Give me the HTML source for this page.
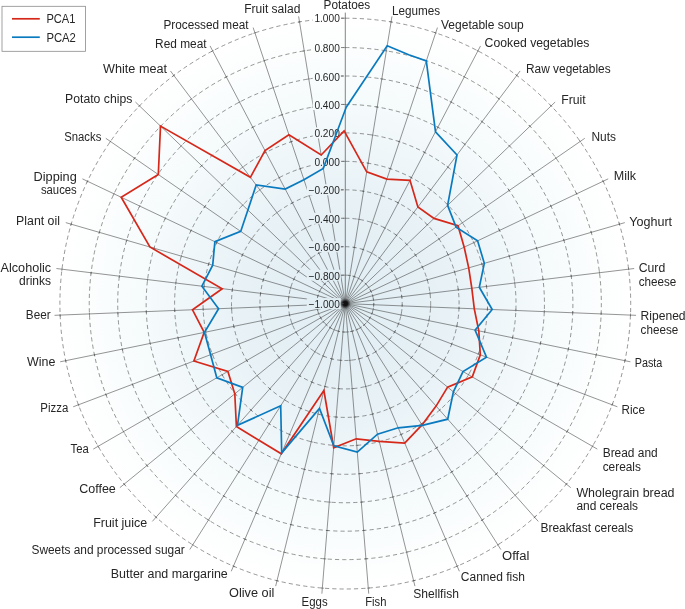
<!DOCTYPE html>
<html><head><meta charset="utf-8"><title>Radar</title>
<style>html,body{margin:0;padding:0;background:#fff;}body{width:685px;height:609px;overflow:hidden;}svg{display:block;will-change:transform;}text{font-family:"Liberation Sans",sans-serif;fill:#262626;}</style></head><body>
<svg width="685" height="609" viewBox="0 0 685 609">
<defs>
<radialGradient id="bg" gradientUnits="userSpaceOnUse" cx="345.3" cy="303.6" r="285.4"><stop offset="0" stop-color="#dfedf3"/><stop offset="0.35" stop-color="#e7f1f6"/><stop offset="0.72" stop-color="#f6fbfc"/><stop offset="1" stop-color="#ffffff"/></radialGradient>
<radialGradient id="hub" gradientUnits="userSpaceOnUse" cx="345.3" cy="303.6" r="5.5"><stop offset="0" stop-color="#111" stop-opacity="1"/><stop offset="0.45" stop-color="#111" stop-opacity="0.85"/><stop offset="1" stop-color="#333" stop-opacity="0"/></radialGradient>
<mask id="lm" maskUnits="userSpaceOnUse" x="0" y="0" width="685" height="609"><rect width="685" height="609" fill="#fff"/>
<rect x="312.8" y="12.7" width="28.0" height="11.0" fill="#000"/>
<rect x="312.8" y="42.1" width="28.0" height="11.0" fill="#000"/>
<rect x="312.8" y="70.5" width="28.0" height="11.0" fill="#000"/>
<rect x="312.8" y="99.0" width="28.0" height="11.0" fill="#000"/>
<rect x="312.8" y="127.4" width="28.0" height="11.0" fill="#000"/>
<rect x="312.8" y="155.9" width="28.0" height="11.0" fill="#000"/>
<rect x="306.8" y="184.3" width="34.0" height="11.0" fill="#000"/>
<rect x="306.8" y="212.8" width="34.0" height="11.0" fill="#000"/>
<rect x="306.8" y="241.2" width="34.0" height="11.0" fill="#000"/>
<rect x="306.8" y="269.7" width="34.0" height="11.0" fill="#000"/>
<rect x="306.8" y="298.1" width="34.0" height="11.0" fill="#000"/>
</mask>
</defs>
<rect width="685" height="609" fill="#fff"/>
<circle cx="345.3" cy="303.6" r="285.4" fill="url(#bg)"/>
<g mask="url(#lm)">
<g fill="none" stroke="#505050" stroke-width="0.60" stroke-dasharray="4.2 3.1" transform="rotate(-90 345.3 303.6)">
<circle cx="345.3" cy="303.6" r="28.45"/>
<circle cx="345.3" cy="303.6" r="56.90"/>
<circle cx="345.3" cy="303.6" r="85.35"/>
<circle cx="345.3" cy="303.6" r="113.80"/>
<circle cx="345.3" cy="303.6" r="142.25"/>
<circle cx="345.3" cy="303.6" r="170.70"/>
<circle cx="345.3" cy="303.6" r="199.15"/>
<circle cx="345.3" cy="303.6" r="227.60"/>
<circle cx="345.3" cy="303.6" r="256.05"/>
<circle cx="345.3" cy="303.6" r="285.40"/>
</g>
<g stroke="#3c3c3c" stroke-width="0.55">
<line x1="345.3" y1="303.6" x2="391.98" y2="16.37"/>
<line x1="345.3" y1="303.6" x2="437.45" y2="27.58"/>
<line x1="345.3" y1="303.6" x2="480.53" y2="45.93"/>
<line x1="345.3" y1="303.6" x2="520.12" y2="70.96"/>
<line x1="345.3" y1="303.6" x2="555.17" y2="102.02"/>
<line x1="345.3" y1="303.6" x2="584.79" y2="138.29"/>
<line x1="345.3" y1="303.6" x2="608.20" y2="178.85"/>
<line x1="345.3" y1="303.6" x2="624.81" y2="222.64"/>
<line x1="345.3" y1="303.6" x2="634.18" y2="268.52"/>
<line x1="345.3" y1="303.6" x2="636.06" y2="315.32"/>
<line x1="345.3" y1="303.6" x2="630.42" y2="361.81"/>
<line x1="345.3" y1="303.6" x2="617.39" y2="406.79"/>
<line x1="345.3" y1="303.6" x2="597.31" y2="449.10"/>
<line x1="345.3" y1="303.6" x2="570.71" y2="487.64"/>
<line x1="345.3" y1="303.6" x2="538.27" y2="521.42"/>
<line x1="345.3" y1="303.6" x2="500.83" y2="549.55"/>
<line x1="345.3" y1="303.6" x2="459.36" y2="571.31"/>
<line x1="345.3" y1="303.6" x2="414.94" y2="586.14"/>
<line x1="345.3" y1="303.6" x2="368.72" y2="593.66"/>
<line x1="345.3" y1="303.6" x2="321.88" y2="593.66"/>
<line x1="345.3" y1="303.6" x2="275.66" y2="586.14"/>
<line x1="345.3" y1="303.6" x2="231.24" y2="571.31"/>
<line x1="345.3" y1="303.6" x2="189.77" y2="549.55"/>
<line x1="345.3" y1="303.6" x2="152.33" y2="521.42"/>
<line x1="345.3" y1="303.6" x2="119.89" y2="487.64"/>
<line x1="345.3" y1="303.6" x2="93.29" y2="449.10"/>
<line x1="345.3" y1="303.6" x2="73.21" y2="406.79"/>
<line x1="345.3" y1="303.6" x2="60.18" y2="361.81"/>
<line x1="345.3" y1="303.6" x2="54.54" y2="315.32"/>
<line x1="345.3" y1="303.6" x2="56.42" y2="268.52"/>
<line x1="345.3" y1="303.6" x2="65.79" y2="222.64"/>
<line x1="345.3" y1="303.6" x2="82.40" y2="178.85"/>
<line x1="345.3" y1="303.6" x2="105.81" y2="138.29"/>
<line x1="345.3" y1="303.6" x2="135.43" y2="102.02"/>
<line x1="345.3" y1="303.6" x2="170.48" y2="70.96"/>
<line x1="345.3" y1="303.6" x2="210.07" y2="45.93"/>
<line x1="345.3" y1="303.6" x2="253.15" y2="27.58"/>
<line x1="345.3" y1="303.6" x2="298.62" y2="16.37"/>
</g>
<g stroke="#505050" stroke-width="0.60">
<line x1="350.85" y1="275.68" x2="348.28" y2="275.26"/>
<line x1="355.41" y1="247.60" x2="352.85" y2="247.18"/>
<line x1="359.98" y1="219.52" x2="357.41" y2="219.10"/>
<line x1="364.54" y1="191.43" x2="361.98" y2="191.02"/>
<line x1="369.11" y1="163.35" x2="366.54" y2="162.94"/>
<line x1="373.67" y1="135.27" x2="371.10" y2="134.85"/>
<line x1="378.23" y1="107.19" x2="375.67" y2="106.77"/>
<line x1="382.80" y1="79.11" x2="380.23" y2="78.69"/>
<line x1="387.36" y1="51.03" x2="384.79" y2="50.61"/>
<line x1="392.07" y1="22.06" x2="389.50" y2="21.64"/>
<line x1="355.26" y1="276.93" x2="352.79" y2="276.11"/>
<line x1="364.27" y1="249.94" x2="361.80" y2="249.12"/>
<line x1="373.28" y1="222.96" x2="370.81" y2="222.14"/>
<line x1="382.29" y1="195.97" x2="379.82" y2="195.15"/>
<line x1="391.29" y1="168.99" x2="388.83" y2="168.16"/>
<line x1="400.30" y1="142.00" x2="397.84" y2="141.18"/>
<line x1="409.31" y1="115.02" x2="406.85" y2="114.19"/>
<line x1="418.32" y1="88.03" x2="415.86" y2="87.21"/>
<line x1="427.33" y1="61.04" x2="424.87" y2="60.22"/>
<line x1="436.63" y1="33.20" x2="434.16" y2="32.38"/>
<line x1="359.41" y1="278.87" x2="357.10" y2="277.67"/>
<line x1="372.63" y1="253.68" x2="370.33" y2="252.47"/>
<line x1="385.85" y1="228.49" x2="383.55" y2="227.28"/>
<line x1="399.07" y1="203.30" x2="396.77" y2="202.09"/>
<line x1="412.29" y1="178.11" x2="409.99" y2="176.90"/>
<line x1="425.51" y1="152.92" x2="423.21" y2="151.71"/>
<line x1="438.74" y1="127.73" x2="436.43" y2="126.52"/>
<line x1="451.96" y1="102.53" x2="449.65" y2="101.33"/>
<line x1="465.18" y1="77.34" x2="462.88" y2="76.14"/>
<line x1="478.82" y1="51.36" x2="476.52" y2="50.15"/>
<line x1="363.19" y1="281.46" x2="361.11" y2="279.89"/>
<line x1="380.28" y1="258.71" x2="378.20" y2="257.15"/>
<line x1="397.37" y1="235.97" x2="395.29" y2="234.41"/>
<line x1="414.46" y1="213.22" x2="412.39" y2="211.66"/>
<line x1="431.56" y1="190.48" x2="429.48" y2="188.92"/>
<line x1="448.65" y1="167.74" x2="446.57" y2="166.17"/>
<line x1="465.74" y1="144.99" x2="463.66" y2="143.43"/>
<line x1="482.83" y1="122.25" x2="480.75" y2="120.69"/>
<line x1="499.92" y1="99.50" x2="497.84" y2="97.94"/>
<line x1="517.55" y1="76.04" x2="515.47" y2="74.48"/>
<line x1="366.51" y1="284.61" x2="364.71" y2="282.74"/>
<line x1="387.03" y1="264.91" x2="385.23" y2="263.03"/>
<line x1="407.55" y1="245.20" x2="405.75" y2="243.32"/>
<line x1="428.07" y1="225.49" x2="426.26" y2="223.61"/>
<line x1="448.58" y1="205.78" x2="446.78" y2="203.91"/>
<line x1="469.10" y1="186.07" x2="467.30" y2="184.20"/>
<line x1="489.62" y1="166.37" x2="487.82" y2="164.49"/>
<line x1="510.14" y1="146.66" x2="508.34" y2="144.78"/>
<line x1="530.66" y1="126.95" x2="528.86" y2="125.07"/>
<line x1="551.82" y1="106.62" x2="550.02" y2="104.74"/>
<line x1="369.28" y1="288.26" x2="367.80" y2="286.12"/>
<line x1="392.70" y1="272.10" x2="391.22" y2="269.96"/>
<line x1="416.11" y1="255.94" x2="414.63" y2="253.80"/>
<line x1="439.52" y1="239.78" x2="438.05" y2="237.64"/>
<line x1="462.94" y1="223.62" x2="461.46" y2="221.48"/>
<line x1="486.35" y1="207.45" x2="484.87" y2="205.31"/>
<line x1="509.77" y1="191.29" x2="508.29" y2="189.15"/>
<line x1="533.18" y1="175.13" x2="531.70" y2="172.99"/>
<line x1="556.59" y1="158.97" x2="555.12" y2="156.83"/>
<line x1="580.75" y1="142.30" x2="579.27" y2="140.16"/>
<line x1="371.43" y1="292.31" x2="370.32" y2="289.96"/>
<line x1="397.14" y1="280.11" x2="396.02" y2="277.76"/>
<line x1="422.84" y1="267.91" x2="421.72" y2="265.57"/>
<line x1="448.54" y1="255.72" x2="447.43" y2="253.37"/>
<line x1="474.24" y1="243.52" x2="473.13" y2="241.17"/>
<line x1="499.95" y1="231.33" x2="498.83" y2="228.98"/>
<line x1="525.65" y1="219.13" x2="524.54" y2="216.78"/>
<line x1="551.35" y1="206.93" x2="550.24" y2="204.58"/>
<line x1="577.06" y1="194.74" x2="575.94" y2="192.39"/>
<line x1="603.57" y1="182.15" x2="602.46" y2="179.81"/>
<line x1="372.90" y1="296.65" x2="372.18" y2="294.15"/>
<line x1="400.23" y1="288.73" x2="399.51" y2="286.23"/>
<line x1="427.56" y1="280.81" x2="426.84" y2="278.32"/>
<line x1="454.89" y1="272.90" x2="454.16" y2="270.40"/>
<line x1="482.21" y1="264.98" x2="481.49" y2="262.49"/>
<line x1="509.54" y1="257.07" x2="508.82" y2="254.57"/>
<line x1="536.87" y1="249.15" x2="536.14" y2="246.66"/>
<line x1="564.19" y1="241.24" x2="563.47" y2="238.74"/>
<line x1="591.52" y1="233.32" x2="590.80" y2="230.83"/>
<line x1="619.71" y1="225.16" x2="618.99" y2="222.66"/>
<line x1="373.66" y1="301.16" x2="373.35" y2="298.58"/>
<line x1="401.91" y1="297.73" x2="401.59" y2="295.15"/>
<line x1="430.15" y1="294.30" x2="429.83" y2="291.72"/>
<line x1="458.39" y1="290.88" x2="458.08" y2="288.29"/>
<line x1="486.63" y1="287.45" x2="486.32" y2="284.87"/>
<line x1="514.88" y1="284.02" x2="514.56" y2="281.44"/>
<line x1="543.12" y1="280.59" x2="542.81" y2="278.01"/>
<line x1="571.36" y1="277.16" x2="571.05" y2="274.58"/>
<line x1="599.60" y1="273.73" x2="599.29" y2="271.15"/>
<line x1="628.74" y1="270.19" x2="628.43" y2="267.61"/>
<line x1="373.69" y1="305.74" x2="373.79" y2="303.15"/>
<line x1="402.11" y1="306.89" x2="402.22" y2="304.29"/>
<line x1="430.54" y1="308.04" x2="430.65" y2="305.44"/>
<line x1="458.97" y1="309.18" x2="459.07" y2="306.58"/>
<line x1="487.39" y1="310.33" x2="487.50" y2="307.73"/>
<line x1="515.82" y1="311.47" x2="515.93" y2="308.87"/>
<line x1="544.25" y1="312.62" x2="544.35" y2="310.02"/>
<line x1="572.68" y1="313.76" x2="572.78" y2="311.17"/>
<line x1="601.10" y1="314.91" x2="601.21" y2="312.31"/>
<line x1="630.43" y1="316.09" x2="630.53" y2="313.49"/>
<line x1="372.98" y1="310.27" x2="373.50" y2="307.72"/>
<line x1="400.85" y1="315.96" x2="401.37" y2="313.41"/>
<line x1="428.73" y1="321.65" x2="429.25" y2="319.10"/>
<line x1="456.60" y1="327.34" x2="457.12" y2="324.80"/>
<line x1="484.48" y1="333.03" x2="485.00" y2="330.49"/>
<line x1="512.35" y1="338.72" x2="512.87" y2="336.18"/>
<line x1="540.23" y1="344.41" x2="540.75" y2="341.87"/>
<line x1="568.10" y1="350.11" x2="568.62" y2="347.56"/>
<line x1="595.98" y1="355.80" x2="596.50" y2="353.25"/>
<line x1="624.73" y1="361.67" x2="625.25" y2="359.12"/>
<line x1="371.55" y1="314.62" x2="372.47" y2="312.19"/>
<line x1="398.15" y1="324.71" x2="399.07" y2="322.28"/>
<line x1="424.75" y1="334.80" x2="425.67" y2="332.37"/>
<line x1="451.35" y1="344.89" x2="452.27" y2="342.46"/>
<line x1="477.95" y1="354.98" x2="478.87" y2="352.55"/>
<line x1="504.55" y1="365.07" x2="505.47" y2="362.64"/>
<line x1="531.15" y1="375.15" x2="532.08" y2="372.72"/>
<line x1="557.76" y1="385.24" x2="558.68" y2="382.81"/>
<line x1="584.36" y1="395.33" x2="585.28" y2="392.90"/>
<line x1="611.80" y1="405.74" x2="612.72" y2="403.31"/>
<line x1="369.44" y1="318.69" x2="370.74" y2="316.44"/>
<line x1="394.08" y1="332.92" x2="395.38" y2="330.66"/>
<line x1="418.72" y1="347.14" x2="420.02" y2="344.89"/>
<line x1="443.35" y1="361.37" x2="444.65" y2="359.11"/>
<line x1="467.99" y1="375.59" x2="469.29" y2="373.34"/>
<line x1="492.63" y1="389.82" x2="493.93" y2="387.56"/>
<line x1="517.27" y1="404.04" x2="518.57" y2="401.79"/>
<line x1="541.91" y1="418.27" x2="543.21" y2="416.01"/>
<line x1="566.55" y1="432.49" x2="567.85" y2="430.24"/>
<line x1="591.96" y1="447.17" x2="593.26" y2="444.91"/>
<line x1="366.71" y1="322.37" x2="368.35" y2="320.35"/>
<line x1="388.74" y1="340.36" x2="390.39" y2="338.35"/>
<line x1="410.78" y1="358.35" x2="412.42" y2="356.34"/>
<line x1="432.82" y1="376.35" x2="434.46" y2="374.33"/>
<line x1="454.86" y1="394.34" x2="456.50" y2="392.33"/>
<line x1="476.89" y1="412.33" x2="478.54" y2="410.32"/>
<line x1="498.93" y1="430.33" x2="500.57" y2="428.31"/>
<line x1="520.97" y1="448.32" x2="522.61" y2="446.31"/>
<line x1="543.01" y1="466.31" x2="544.65" y2="464.30"/>
<line x1="565.74" y1="484.87" x2="567.38" y2="482.86"/>
<line x1="363.42" y1="325.56" x2="365.36" y2="323.83"/>
<line x1="382.28" y1="346.85" x2="384.23" y2="345.13"/>
<line x1="401.15" y1="368.15" x2="403.10" y2="366.42"/>
<line x1="420.01" y1="389.44" x2="421.96" y2="387.72"/>
<line x1="438.88" y1="410.74" x2="440.83" y2="409.01"/>
<line x1="457.75" y1="432.03" x2="459.69" y2="430.31"/>
<line x1="476.61" y1="453.33" x2="478.56" y2="451.60"/>
<line x1="495.48" y1="474.62" x2="497.42" y2="472.90"/>
<line x1="514.34" y1="495.92" x2="516.29" y2="494.20"/>
<line x1="533.81" y1="517.89" x2="535.75" y2="516.16"/>
<line x1="359.66" y1="328.18" x2="361.86" y2="326.79"/>
<line x1="374.87" y1="352.23" x2="377.06" y2="350.84"/>
<line x1="390.07" y1="376.27" x2="392.27" y2="374.88"/>
<line x1="405.28" y1="400.32" x2="407.47" y2="398.93"/>
<line x1="420.48" y1="424.36" x2="422.68" y2="422.97"/>
<line x1="435.69" y1="448.41" x2="437.89" y2="447.02"/>
<line x1="450.89" y1="472.45" x2="453.09" y2="471.06"/>
<line x1="466.10" y1="496.50" x2="468.30" y2="495.11"/>
<line x1="481.30" y1="520.55" x2="483.50" y2="519.16"/>
<line x1="496.99" y1="545.35" x2="499.19" y2="543.96"/>
<line x1="355.53" y1="330.17" x2="357.92" y2="329.15"/>
<line x1="366.68" y1="356.34" x2="369.07" y2="355.32"/>
<line x1="377.83" y1="382.51" x2="380.23" y2="381.49"/>
<line x1="388.99" y1="408.69" x2="391.38" y2="407.67"/>
<line x1="400.14" y1="434.86" x2="402.53" y2="433.84"/>
<line x1="411.29" y1="461.03" x2="413.68" y2="460.01"/>
<line x1="422.44" y1="487.21" x2="424.83" y2="486.19"/>
<line x1="433.59" y1="513.38" x2="435.98" y2="512.36"/>
<line x1="444.74" y1="539.55" x2="447.14" y2="538.53"/>
<line x1="456.25" y1="566.55" x2="458.64" y2="565.53"/>
<line x1="351.14" y1="331.46" x2="353.66" y2="330.84"/>
<line x1="357.95" y1="359.09" x2="360.47" y2="358.46"/>
<line x1="364.75" y1="386.71" x2="367.28" y2="386.09"/>
<line x1="371.56" y1="414.33" x2="374.09" y2="413.71"/>
<line x1="378.37" y1="441.96" x2="380.90" y2="441.33"/>
<line x1="385.18" y1="469.58" x2="387.70" y2="468.96"/>
<line x1="391.99" y1="497.20" x2="394.51" y2="496.58"/>
<line x1="398.80" y1="524.83" x2="401.32" y2="524.20"/>
<line x1="405.61" y1="552.45" x2="408.13" y2="551.83"/>
<line x1="412.63" y1="580.95" x2="415.15" y2="580.32"/>
<line x1="346.59" y1="332.04" x2="349.18" y2="331.83"/>
<line x1="348.88" y1="360.40" x2="351.47" y2="360.19"/>
<line x1="351.17" y1="388.75" x2="353.76" y2="388.54"/>
<line x1="353.46" y1="417.11" x2="356.05" y2="416.90"/>
<line x1="355.75" y1="445.47" x2="358.34" y2="445.26"/>
<line x1="358.04" y1="473.83" x2="360.63" y2="473.62"/>
<line x1="360.33" y1="502.18" x2="362.92" y2="501.98"/>
<line x1="362.62" y1="530.54" x2="365.21" y2="530.33"/>
<line x1="364.91" y1="558.90" x2="367.50" y2="558.69"/>
<line x1="367.27" y1="588.16" x2="369.86" y2="587.95"/>
<line x1="342.01" y1="331.88" x2="344.61" y2="332.09"/>
<line x1="339.72" y1="360.24" x2="342.32" y2="360.44"/>
<line x1="337.44" y1="388.59" x2="340.03" y2="388.80"/>
<line x1="335.15" y1="416.95" x2="337.74" y2="417.16"/>
<line x1="332.86" y1="445.31" x2="335.45" y2="445.52"/>
<line x1="330.57" y1="473.67" x2="333.16" y2="473.88"/>
<line x1="328.28" y1="502.02" x2="330.87" y2="502.23"/>
<line x1="325.99" y1="530.38" x2="328.58" y2="530.59"/>
<line x1="323.70" y1="558.74" x2="326.29" y2="558.95"/>
<line x1="321.34" y1="587.99" x2="323.93" y2="588.20"/>
<line x1="337.52" y1="330.98" x2="340.04" y2="331.61"/>
<line x1="330.71" y1="358.61" x2="333.24" y2="359.23"/>
<line x1="323.90" y1="386.23" x2="326.43" y2="386.85"/>
<line x1="317.09" y1="413.85" x2="319.62" y2="414.48"/>
<line x1="310.29" y1="441.48" x2="312.81" y2="442.10"/>
<line x1="303.48" y1="469.10" x2="306.00" y2="469.72"/>
<line x1="296.67" y1="496.72" x2="299.19" y2="497.35"/>
<line x1="289.86" y1="524.35" x2="292.39" y2="524.97"/>
<line x1="283.05" y1="551.97" x2="285.58" y2="552.59"/>
<line x1="276.03" y1="580.47" x2="278.55" y2="581.09"/>
<line x1="333.23" y1="329.38" x2="335.62" y2="330.40"/>
<line x1="322.08" y1="355.55" x2="324.47" y2="356.57"/>
<line x1="310.93" y1="381.73" x2="313.32" y2="382.75"/>
<line x1="299.77" y1="407.90" x2="302.17" y2="408.92"/>
<line x1="288.62" y1="434.08" x2="291.01" y2="435.09"/>
<line x1="277.47" y1="460.25" x2="279.86" y2="461.27"/>
<line x1="266.32" y1="486.42" x2="268.71" y2="487.44"/>
<line x1="255.17" y1="512.60" x2="257.56" y2="513.61"/>
<line x1="244.02" y1="538.77" x2="246.41" y2="539.79"/>
<line x1="232.51" y1="565.77" x2="234.90" y2="566.79"/>
<line x1="329.25" y1="327.11" x2="331.45" y2="328.50"/>
<line x1="314.04" y1="351.16" x2="316.24" y2="352.55"/>
<line x1="298.84" y1="375.20" x2="301.04" y2="376.59"/>
<line x1="283.63" y1="399.25" x2="285.83" y2="400.64"/>
<line x1="268.43" y1="423.29" x2="270.62" y2="424.68"/>
<line x1="253.22" y1="447.34" x2="255.42" y2="448.73"/>
<line x1="238.02" y1="471.39" x2="240.21" y2="472.77"/>
<line x1="222.81" y1="495.43" x2="225.01" y2="496.82"/>
<line x1="207.60" y1="519.48" x2="209.80" y2="520.87"/>
<line x1="191.92" y1="544.28" x2="194.12" y2="545.67"/>
<line x1="325.69" y1="324.23" x2="327.63" y2="325.96"/>
<line x1="306.82" y1="345.53" x2="308.77" y2="347.25"/>
<line x1="287.95" y1="366.82" x2="289.90" y2="368.55"/>
<line x1="269.09" y1="388.12" x2="271.03" y2="389.84"/>
<line x1="250.22" y1="409.41" x2="252.17" y2="411.14"/>
<line x1="231.36" y1="430.71" x2="233.30" y2="432.43"/>
<line x1="212.49" y1="452.00" x2="214.44" y2="453.73"/>
<line x1="193.62" y1="473.30" x2="195.57" y2="475.02"/>
<line x1="174.76" y1="494.59" x2="176.71" y2="496.32"/>
<line x1="155.30" y1="516.56" x2="157.24" y2="518.29"/>
<line x1="322.63" y1="320.82" x2="324.27" y2="322.83"/>
<line x1="300.59" y1="338.81" x2="302.24" y2="340.83"/>
<line x1="278.56" y1="356.80" x2="280.20" y2="358.82"/>
<line x1="256.52" y1="374.80" x2="258.16" y2="376.81"/>
<line x1="234.48" y1="392.79" x2="236.12" y2="394.80"/>
<line x1="212.44" y1="410.78" x2="214.09" y2="412.80"/>
<line x1="190.40" y1="428.78" x2="192.05" y2="430.79"/>
<line x1="168.37" y1="446.77" x2="170.01" y2="448.78"/>
<line x1="146.33" y1="464.76" x2="147.97" y2="466.78"/>
<line x1="123.60" y1="483.33" x2="125.24" y2="485.34"/>
<line x1="320.16" y1="316.96" x2="321.46" y2="319.21"/>
<line x1="295.52" y1="331.18" x2="296.82" y2="333.44"/>
<line x1="270.88" y1="345.41" x2="272.18" y2="347.66"/>
<line x1="246.25" y1="359.63" x2="247.55" y2="361.89"/>
<line x1="221.61" y1="373.86" x2="222.91" y2="376.11"/>
<line x1="196.97" y1="388.08" x2="198.27" y2="390.34"/>
<line x1="172.33" y1="402.31" x2="173.63" y2="404.56"/>
<line x1="147.69" y1="416.53" x2="148.99" y2="418.79"/>
<line x1="123.05" y1="430.76" x2="124.35" y2="433.01"/>
<line x1="97.64" y1="445.43" x2="98.94" y2="447.69"/>
<line x1="318.34" y1="312.75" x2="319.27" y2="315.18"/>
<line x1="291.74" y1="322.84" x2="292.66" y2="325.27"/>
<line x1="265.14" y1="332.93" x2="266.06" y2="335.36"/>
<line x1="238.54" y1="343.02" x2="239.46" y2="345.45"/>
<line x1="211.94" y1="353.11" x2="212.86" y2="355.54"/>
<line x1="185.34" y1="363.20" x2="186.26" y2="365.63"/>
<line x1="158.74" y1="373.28" x2="159.66" y2="375.72"/>
<line x1="132.14" y1="383.37" x2="133.06" y2="385.80"/>
<line x1="105.53" y1="393.46" x2="106.46" y2="395.89"/>
<line x1="78.09" y1="403.87" x2="79.01" y2="406.30"/>
<line x1="317.22" y1="308.31" x2="317.74" y2="310.86"/>
<line x1="289.35" y1="314.00" x2="289.87" y2="316.55"/>
<line x1="261.47" y1="319.69" x2="261.99" y2="322.24"/>
<line x1="233.60" y1="325.38" x2="234.12" y2="327.93"/>
<line x1="205.72" y1="331.07" x2="206.24" y2="333.62"/>
<line x1="177.85" y1="336.76" x2="178.37" y2="339.31"/>
<line x1="149.97" y1="342.46" x2="150.49" y2="345.00"/>
<line x1="122.10" y1="348.15" x2="122.62" y2="350.69"/>
<line x1="94.22" y1="353.84" x2="94.74" y2="356.38"/>
<line x1="65.47" y1="359.71" x2="65.99" y2="362.25"/>
<line x1="316.83" y1="303.75" x2="316.94" y2="306.34"/>
<line x1="288.41" y1="304.89" x2="288.51" y2="307.49"/>
<line x1="259.98" y1="306.04" x2="260.08" y2="308.64"/>
<line x1="231.55" y1="307.18" x2="231.66" y2="309.78"/>
<line x1="203.13" y1="308.33" x2="203.23" y2="310.93"/>
<line x1="174.70" y1="309.47" x2="174.80" y2="312.07"/>
<line x1="146.27" y1="310.62" x2="146.38" y2="313.22"/>
<line x1="117.84" y1="311.77" x2="117.95" y2="314.36"/>
<line x1="89.42" y1="312.91" x2="89.52" y2="315.51"/>
<line x1="60.09" y1="314.09" x2="60.20" y2="316.69"/>
<line x1="317.18" y1="299.18" x2="316.86" y2="301.76"/>
<line x1="288.94" y1="295.75" x2="288.62" y2="298.33"/>
<line x1="260.69" y1="292.32" x2="260.38" y2="294.90"/>
<line x1="232.45" y1="288.89" x2="232.14" y2="291.47"/>
<line x1="204.21" y1="285.46" x2="203.89" y2="288.04"/>
<line x1="175.97" y1="282.03" x2="175.65" y2="284.61"/>
<line x1="147.72" y1="278.60" x2="147.41" y2="281.18"/>
<line x1="119.48" y1="275.17" x2="119.17" y2="277.75"/>
<line x1="91.24" y1="271.74" x2="90.92" y2="274.32"/>
<line x1="62.10" y1="268.21" x2="61.79" y2="270.79"/>
<line x1="318.25" y1="294.72" x2="317.53" y2="297.22"/>
<line x1="290.92" y1="286.81" x2="290.20" y2="289.31"/>
<line x1="263.60" y1="278.89" x2="262.87" y2="281.39"/>
<line x1="236.27" y1="270.98" x2="235.55" y2="273.48"/>
<line x1="208.94" y1="263.06" x2="208.22" y2="265.56"/>
<line x1="181.62" y1="255.15" x2="180.89" y2="257.65"/>
<line x1="154.29" y1="247.23" x2="153.57" y2="249.73"/>
<line x1="126.96" y1="239.32" x2="126.24" y2="241.81"/>
<line x1="99.64" y1="231.40" x2="98.91" y2="233.90"/>
<line x1="71.45" y1="223.24" x2="70.72" y2="225.73"/>
<line x1="320.03" y1="290.50" x2="318.91" y2="292.85"/>
<line x1="294.32" y1="278.30" x2="293.21" y2="280.65"/>
<line x1="268.62" y1="266.11" x2="267.50" y2="268.46"/>
<line x1="242.92" y1="253.91" x2="241.80" y2="256.26"/>
<line x1="217.21" y1="241.72" x2="216.10" y2="244.06"/>
<line x1="191.51" y1="229.52" x2="190.40" y2="231.87"/>
<line x1="165.81" y1="217.32" x2="164.69" y2="219.67"/>
<line x1="140.10" y1="205.13" x2="138.99" y2="207.48"/>
<line x1="114.40" y1="192.93" x2="113.29" y2="195.28"/>
<line x1="87.88" y1="180.35" x2="86.77" y2="182.70"/>
<line x1="322.45" y1="286.62" x2="320.98" y2="288.76"/>
<line x1="299.04" y1="270.45" x2="297.56" y2="272.59"/>
<line x1="275.63" y1="254.29" x2="274.15" y2="256.43"/>
<line x1="252.21" y1="238.13" x2="250.74" y2="240.27"/>
<line x1="228.80" y1="221.97" x2="227.32" y2="224.11"/>
<line x1="205.38" y1="205.81" x2="203.91" y2="207.95"/>
<line x1="181.97" y1="189.65" x2="180.49" y2="191.79"/>
<line x1="158.56" y1="173.49" x2="157.08" y2="175.63"/>
<line x1="135.14" y1="157.32" x2="133.67" y2="159.46"/>
<line x1="110.99" y1="140.65" x2="109.51" y2="142.79"/>
<line x1="325.47" y1="283.17" x2="323.67" y2="285.05"/>
<line x1="304.96" y1="263.46" x2="303.16" y2="265.34"/>
<line x1="284.44" y1="243.75" x2="282.64" y2="245.63"/>
<line x1="263.92" y1="224.05" x2="262.12" y2="225.92"/>
<line x1="243.40" y1="204.34" x2="241.60" y2="206.21"/>
<line x1="222.88" y1="184.63" x2="221.08" y2="186.51"/>
<line x1="202.37" y1="164.92" x2="200.56" y2="166.80"/>
<line x1="181.85" y1="145.21" x2="180.05" y2="147.09"/>
<line x1="161.33" y1="125.51" x2="159.53" y2="127.38"/>
<line x1="140.16" y1="105.18" x2="138.36" y2="107.05"/>
<line x1="329.01" y1="280.26" x2="326.93" y2="281.82"/>
<line x1="311.92" y1="257.51" x2="309.84" y2="259.07"/>
<line x1="294.83" y1="234.77" x2="292.75" y2="236.33"/>
<line x1="277.73" y1="212.02" x2="275.66" y2="213.58"/>
<line x1="260.64" y1="189.28" x2="258.57" y2="190.84"/>
<line x1="243.55" y1="166.53" x2="241.47" y2="168.10"/>
<line x1="226.46" y1="143.79" x2="224.38" y2="145.35"/>
<line x1="209.37" y1="121.05" x2="207.29" y2="122.61"/>
<line x1="192.28" y1="98.30" x2="190.20" y2="99.86"/>
<line x1="174.65" y1="74.84" x2="172.57" y2="76.40"/>
<line x1="332.96" y1="277.94" x2="330.66" y2="279.15"/>
<line x1="319.74" y1="252.75" x2="317.44" y2="253.96"/>
<line x1="306.52" y1="227.56" x2="304.22" y2="228.77"/>
<line x1="293.30" y1="202.37" x2="291.00" y2="203.58"/>
<line x1="280.08" y1="177.18" x2="277.78" y2="178.39"/>
<line x1="266.86" y1="151.99" x2="264.56" y2="153.20"/>
<line x1="253.64" y1="126.80" x2="251.33" y2="128.00"/>
<line x1="240.41" y1="101.61" x2="238.11" y2="102.81"/>
<line x1="227.19" y1="76.41" x2="224.89" y2="77.62"/>
<line x1="213.55" y1="50.43" x2="211.25" y2="51.63"/>
<line x1="337.24" y1="276.30" x2="334.77" y2="277.12"/>
<line x1="328.23" y1="249.31" x2="325.76" y2="250.13"/>
<line x1="319.22" y1="222.33" x2="316.75" y2="223.15"/>
<line x1="310.21" y1="195.34" x2="307.75" y2="196.16"/>
<line x1="301.20" y1="168.35" x2="298.74" y2="169.18"/>
<line x1="292.19" y1="141.37" x2="289.73" y2="142.19"/>
<line x1="283.18" y1="114.38" x2="280.72" y2="115.21"/>
<line x1="274.17" y1="87.40" x2="271.71" y2="88.22"/>
<line x1="265.17" y1="60.41" x2="262.70" y2="61.23"/>
<line x1="255.87" y1="32.57" x2="253.41" y2="33.39"/>
<line x1="341.72" y1="275.36" x2="339.16" y2="275.78"/>
<line x1="337.16" y1="247.28" x2="334.59" y2="247.69"/>
<line x1="332.60" y1="219.19" x2="330.03" y2="219.61"/>
<line x1="328.03" y1="191.11" x2="325.47" y2="191.53"/>
<line x1="323.47" y1="163.03" x2="320.90" y2="163.45"/>
<line x1="318.90" y1="134.95" x2="316.34" y2="135.37"/>
<line x1="314.34" y1="106.87" x2="311.77" y2="107.29"/>
<line x1="309.78" y1="78.79" x2="307.21" y2="79.20"/>
<line x1="305.21" y1="50.71" x2="302.65" y2="51.12"/>
<line x1="300.51" y1="21.74" x2="297.94" y2="22.15"/>
</g>
</g>
<line x1="345.3" y1="303.6" x2="345.30" y2="12.60" stroke="#505050" stroke-width="0.70"/>
<circle cx="345.3" cy="303.6" r="5.5" fill="url(#hub)"/>
<circle cx="345.3" cy="303.6" r="2.4" fill="#111"/>
<line x1="341.0" y1="18.20" x2="343.8" y2="18.20" stroke="#505050" stroke-width="0.70"/>
<text x="339.8" y="21.90" font-size="11.5" text-anchor="end" textLength="25.4" lengthAdjust="spacingAndGlyphs">1.000</text>
<line x1="341.0" y1="47.55" x2="343.8" y2="47.55" stroke="#505050" stroke-width="0.70"/>
<text x="339.8" y="52.05" font-size="11.5" text-anchor="end" textLength="25.4" lengthAdjust="spacingAndGlyphs">0.800</text>
<line x1="341.0" y1="76.00" x2="343.8" y2="76.00" stroke="#505050" stroke-width="0.70"/>
<text x="339.8" y="80.50" font-size="11.5" text-anchor="end" textLength="25.4" lengthAdjust="spacingAndGlyphs">0.600</text>
<line x1="341.0" y1="104.45" x2="343.8" y2="104.45" stroke="#505050" stroke-width="0.70"/>
<text x="339.8" y="108.95" font-size="11.5" text-anchor="end" textLength="25.4" lengthAdjust="spacingAndGlyphs">0.400</text>
<line x1="341.0" y1="132.90" x2="343.8" y2="132.90" stroke="#505050" stroke-width="0.70"/>
<text x="339.8" y="137.40" font-size="11.5" text-anchor="end" textLength="25.4" lengthAdjust="spacingAndGlyphs">0.200</text>
<line x1="341.0" y1="161.35" x2="343.8" y2="161.35" stroke="#505050" stroke-width="0.70"/>
<text x="339.8" y="165.85" font-size="11.5" text-anchor="end" textLength="25.4" lengthAdjust="spacingAndGlyphs">0.000</text>
<line x1="341.0" y1="189.80" x2="343.8" y2="189.80" stroke="#505050" stroke-width="0.70"/>
<text x="339.8" y="194.30" font-size="11.5" text-anchor="end" textLength="31.2" lengthAdjust="spacingAndGlyphs">−0.200</text>
<line x1="341.0" y1="218.25" x2="343.8" y2="218.25" stroke="#505050" stroke-width="0.70"/>
<text x="339.8" y="222.75" font-size="11.5" text-anchor="end" textLength="31.2" lengthAdjust="spacingAndGlyphs">−0.400</text>
<line x1="341.0" y1="246.70" x2="343.8" y2="246.70" stroke="#505050" stroke-width="0.70"/>
<text x="339.8" y="251.20" font-size="11.5" text-anchor="end" textLength="31.2" lengthAdjust="spacingAndGlyphs">−0.600</text>
<line x1="341.0" y1="275.15" x2="343.8" y2="275.15" stroke="#505050" stroke-width="0.70"/>
<text x="339.8" y="279.65" font-size="11.5" text-anchor="end" textLength="31.2" lengthAdjust="spacingAndGlyphs">−0.800</text>
<line x1="341.0" y1="303.60" x2="343.8" y2="303.60" stroke="#505050" stroke-width="0.70"/>
<text x="339.8" y="308.10" font-size="11.5" text-anchor="end" textLength="31.2" lengthAdjust="spacingAndGlyphs">−1.000</text>
<path d="M344.1 130.9 L366.7 171.9 L386.9 179.1 L410.0 180.3 L417.9 206.9 L434.0 218.4 L458.0 225.8 L464.2 247.2 L468.7 267.8 L471.8 288.2 L474.3 308.8 L478.8 330.9 L480.3 354.8 L472.3 376.9 L447.6 387.1 L436.1 406.1 L422.0 424.9 L404.7 443.1 L379.2 441.3 L356.2 438.8 L333.7 447.7 L323.9 390.5 L281.3 453.8 L258.9 440.3 L236.4 426.5 L234.8 393.8 L227.9 371.4 L193.9 361.0 L204.2 332.4 L192.5 309.8 L222.2 288.7 L149.9 247.0 L121.2 197.2 L158.3 174.5 L160.5 126.1 L250.4 177.3 L265.0 150.6 L288.9 134.7 L321.2 155.0 Z" fill="none" stroke="#d5281a" stroke-width="1.7" stroke-linejoin="miter"/>
<path d="M346.2 107.3 L387.2 45.7 L408.7 54.7 L426.3 60.9 L435.5 131.8 L457.0 154.9 L447.6 205.4 L456.1 227.1 L477.6 240.8 L484.3 263.3 L479.3 287.3 L492.2 309.5 L475.1 330.1 L486.5 357.1 L463.0 371.6 L453.4 391.8 L447.7 419.2 L422.3 425.3 L398.2 427.8 L377.5 434.2 L357.3 452.1 L333.8 445.8 L319.5 408.5 L281.7 452.9 L280.7 405.8 L237.5 425.3 L242.7 387.4 L216.8 377.8 L210.6 354.7 L204.5 332.3 L218.6 308.7 L201.9 286.2 L212.7 265.2 L214.9 241.7 L240.7 231.4 L247.9 210.0 L256.2 185.0 L285.2 189.0 L303.9 179.7 L323.3 168.4 Z" fill="none" stroke="#0a7abf" stroke-width="1.7" stroke-linejoin="miter"/>
<text x="323.6" y="9.2" font-size="12.3" text-anchor="start" textLength="46.6" lengthAdjust="spacingAndGlyphs">Potatoes</text>
<text x="392.0" y="15.2" font-size="12.3" text-anchor="start" textLength="48.1" lengthAdjust="spacingAndGlyphs">Legumes</text>
<text x="441.0" y="29.2" font-size="12.3" text-anchor="start" textLength="82.8" lengthAdjust="spacingAndGlyphs">Vegetable soup</text>
<text x="484.6" y="47.2" font-size="12.3" text-anchor="start" textLength="104.7" lengthAdjust="spacingAndGlyphs">Cooked vegetables</text>
<text x="526.0" y="73.0" font-size="12.3" text-anchor="start" textLength="84.6" lengthAdjust="spacingAndGlyphs">Raw vegetables</text>
<text x="561.2" y="103.9" font-size="12.3" text-anchor="start" textLength="24.5" lengthAdjust="spacingAndGlyphs">Fruit</text>
<text x="591.5" y="140.7" font-size="12.3" text-anchor="start" textLength="24.5" lengthAdjust="spacingAndGlyphs">Nuts</text>
<text x="613.7" y="180.2" font-size="12.3" text-anchor="start" textLength="22.3" lengthAdjust="spacingAndGlyphs">Milk</text>
<text x="629.3" y="225.7" font-size="12.3" text-anchor="start" textLength="42.8" lengthAdjust="spacingAndGlyphs">Yoghurt</text>
<text x="638.7" y="272.4" font-size="12.3" text-anchor="start" textLength="26.5" lengthAdjust="spacingAndGlyphs">Curd</text>
<text x="638.7" y="285.5" font-size="12.3" text-anchor="start" textLength="37.6" lengthAdjust="spacingAndGlyphs">cheese</text>
<text x="640.6" y="320.0" font-size="12.3" text-anchor="start" textLength="45.0" lengthAdjust="spacingAndGlyphs">Ripened</text>
<text x="640.6" y="334.2" font-size="12.3" text-anchor="start" textLength="37.6" lengthAdjust="spacingAndGlyphs">cheese</text>
<text x="634.7" y="367.3" font-size="12.3" text-anchor="start" textLength="27.6" lengthAdjust="spacingAndGlyphs">Pasta</text>
<text x="621.5" y="414.0" font-size="12.3" text-anchor="start" textLength="23.4" lengthAdjust="spacingAndGlyphs">Rice</text>
<text x="602.7" y="457.1" font-size="12.3" text-anchor="start" textLength="55.0" lengthAdjust="spacingAndGlyphs">Bread and</text>
<text x="602.7" y="470.6" font-size="12.3" text-anchor="start" textLength="38.2" lengthAdjust="spacingAndGlyphs">cereals</text>
<text x="576.4" y="496.9" font-size="12.3" text-anchor="start" textLength="98.1" lengthAdjust="spacingAndGlyphs">Wholegrain bread</text>
<text x="576.4" y="510.0" font-size="12.3" text-anchor="start" textLength="61.7" lengthAdjust="spacingAndGlyphs">and cereals</text>
<text x="540.4" y="532.0" font-size="12.3" text-anchor="start" textLength="92.8" lengthAdjust="spacingAndGlyphs">Breakfast cereals</text>
<text x="502.0" y="559.6" font-size="12.3" text-anchor="start" textLength="27.3" lengthAdjust="spacingAndGlyphs">Offal</text>
<text x="460.8" y="581.4" font-size="12.3" text-anchor="start" textLength="64.1" lengthAdjust="spacingAndGlyphs">Canned fish</text>
<text x="413.3" y="598.3" font-size="12.3" text-anchor="start" textLength="45.6" lengthAdjust="spacingAndGlyphs">Shellfish</text>
<text x="365.2" y="605.9" font-size="12.3" text-anchor="start" textLength="21.2" lengthAdjust="spacingAndGlyphs">Fish</text>
<text x="327.6" y="605.9" font-size="12.3" text-anchor="end" textLength="26.0" lengthAdjust="spacingAndGlyphs">Eggs</text>
<text x="274.3" y="597.3" font-size="12.3" text-anchor="end" textLength="45.3" lengthAdjust="spacingAndGlyphs">Olive oil</text>
<text x="227.8" y="577.9" font-size="12.3" text-anchor="end" textLength="117.0" lengthAdjust="spacingAndGlyphs">Butter and margarine</text>
<text x="184.7" y="553.9" font-size="12.3" text-anchor="end" textLength="153.2" lengthAdjust="spacingAndGlyphs">Sweets and processed sugar</text>
<text x="147.2" y="526.8" font-size="12.3" text-anchor="end" textLength="54.0" lengthAdjust="spacingAndGlyphs">Fruit juice</text>
<text x="115.8" y="493.4" font-size="12.3" text-anchor="end" textLength="36.6" lengthAdjust="spacingAndGlyphs">Coffee</text>
<text x="88.7" y="453.4" font-size="12.3" text-anchor="end" textLength="18.2" lengthAdjust="spacingAndGlyphs">Tea</text>
<text x="68.3" y="411.9" font-size="12.3" text-anchor="end" textLength="28.0" lengthAdjust="spacingAndGlyphs">Pizza</text>
<text x="55.5" y="366.0" font-size="12.3" text-anchor="end" textLength="28.4" lengthAdjust="spacingAndGlyphs">Wine</text>
<text x="50.6" y="318.6" font-size="12.3" text-anchor="end" textLength="24.8" lengthAdjust="spacingAndGlyphs">Beer</text>
<text x="51.1" y="271.5" font-size="12.3" text-anchor="end" textLength="50.5" lengthAdjust="spacingAndGlyphs">Alcoholic</text>
<text x="51.1" y="284.7" font-size="12.3" text-anchor="end" textLength="32.1" lengthAdjust="spacingAndGlyphs">drinks</text>
<text x="59.9" y="224.8" font-size="12.3" text-anchor="end" textLength="43.8" lengthAdjust="spacingAndGlyphs">Plant oil</text>
<text x="76.8" y="180.6" font-size="12.3" text-anchor="end" textLength="43.2" lengthAdjust="spacingAndGlyphs">Dipping</text>
<text x="76.8" y="193.7" font-size="12.3" text-anchor="end" textLength="35.9" lengthAdjust="spacingAndGlyphs">sauces</text>
<text x="101.3" y="140.6" font-size="12.3" text-anchor="end" textLength="37.1" lengthAdjust="spacingAndGlyphs">Snacks</text>
<text x="132.3" y="103.1" font-size="12.3" text-anchor="end" textLength="67.2" lengthAdjust="spacingAndGlyphs">Potato chips</text>
<text x="167.0" y="73.2" font-size="12.3" text-anchor="end" textLength="63.9" lengthAdjust="spacingAndGlyphs">White meat</text>
<text x="206.6" y="48.1" font-size="12.3" text-anchor="end" textLength="51.5" lengthAdjust="spacingAndGlyphs">Red meat</text>
<text x="248.5" y="28.5" font-size="12.3" text-anchor="end" textLength="85.0" lengthAdjust="spacingAndGlyphs">Processed meat</text>
<text x="300.4" y="13.3" font-size="12.3" text-anchor="end" textLength="56.2" lengthAdjust="spacingAndGlyphs">Fruit salad</text>
<rect x="2" y="6.3" width="83.5" height="45" fill="#fff" stroke="#8a8a8a" stroke-width="0.8"/>
<line x1="12" y1="18.8" x2="39.8" y2="18.8" stroke="#d5281a" stroke-width="1.7"/>
<line x1="12" y1="37.2" x2="39.8" y2="37.2" stroke="#0a7abf" stroke-width="1.7"/>
<text x="46.4" y="23.2" font-size="12.5" textLength="29" lengthAdjust="spacingAndGlyphs">PCA1</text>
<text x="46.4" y="41.6" font-size="12.5" textLength="29.5" lengthAdjust="spacingAndGlyphs">PCA2</text>
</svg></body></html>
